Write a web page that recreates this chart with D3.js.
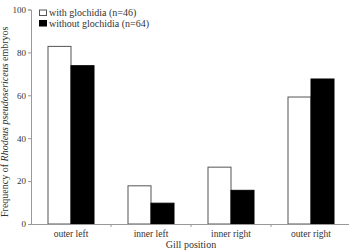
<!DOCTYPE html>
<html>
<head>
<meta charset="utf-8">
<script src="https://cdn.jsdelivr.net/npm/d3@7"></script>
<style>
	body { margin: 0; background: #fff; }
	svg text { font-family: "Liberation Serif", "DejaVu Serif", serif; fill: #333; }
</style>
</head>
<body>
<div id="chart"></div>
<script>
// data
let categories = ["outer left", "inner left", "inner right", "outer right"];
let withGlochidia = [82.8, 17.8, 26.5, 59.2];
let withoutGlochidia = [73.8, 9.7, 15.7, 67.6];
let seriesNames = ["with glochidia (n=46)", "without glochidia (n=64)"];
let yTicks = [0, 20, 40, 60, 80, 100];

let width = 349;
let height = 251;
let plotLeft = 31, plotRight = 351, plotTop = 9.5, plotBottom = 224;

let svg = d3.select('#chart').append('svg')
	.attr('width', width)
	.attr('height', height);

let xScale = d3.scaleBand().domain(categories).range([plotLeft, plotRight]);
let inner = d3.scaleBand().domain([0, 1]).range([-23, 23]);
let yScale = d3.scaleLinear().domain([0, 100]).range([plotBottom, plotTop]);

let axisColor = '#999';

// y axis
let yAxis = svg.append('g')
	.attr('transform', `translate(${plotLeft},0)`)
	.call(d3.axisLeft(yScale).tickValues(yTicks).tickSize(3).tickPadding(2));
yAxis.select('.domain').attr('stroke', axisColor);
yAxis.selectAll('.tick line').attr('stroke', axisColor);
yAxis.selectAll('.tick text').style('font-size', '9px').attr('fill', '#333');

// bars
let series = [withGlochidia, withoutGlochidia];
let groups = svg.append('g').selectAll('g')
	.data(categories).enter()
	.append('g')
	.attr('transform', d => `translate(${xScale(d) + xScale.bandwidth() / 2},0)`);

groups.selectAll('rect')
	.data((d, i) => series.map((s, k) => ({ k: k, value: s[i] })))
	.enter().append('rect')
	.attr('x', d => inner(d.k))
	.attr('width', inner.bandwidth())
	.attr('y', d => yScale(d.value))
	.attr('height', d => plotBottom - yScale(d.value))
	.attr('fill', d => d.k === 0 ? '#fff' : '#000')
	.attr('stroke', d => d.k === 0 ? '#555' : '#000')
	.attr('stroke-width', 1);

// x axis
let xAxis = svg.append('g')
	.attr('transform', `translate(0,${plotBottom})`);
xAxis.append('line')
	.attr('x1', plotLeft).attr('x2', width)
	.attr('y1', 0.5).attr('y2', 0.5)
	.attr('stroke', axisColor);
xAxis.selectAll('.sep')
	.data(categories.slice(1)).enter()
	.append('line')
	.attr('x1', d => xScale(d)).attr('x2', d => xScale(d))
	.attr('y1', 0).attr('y2', 3)
	.attr('stroke', axisColor);
xAxis.selectAll('.lab')
	.data(categories).enter()
	.append('text')
	.attr('x', d => xScale(d) + xScale.bandwidth() / 2)
	.attr('y', 13)
	.attr('text-anchor', 'middle')
	.style('font-size', '9.5px')
	.text(d => d);

svg.append('text')
	.attr('x', (plotLeft + plotRight) / 2)
	.attr('y', 248)
	.attr('text-anchor', 'middle')
	.style('font-size', '10px')
	.text('Gill position');

// y label
let yl = svg.append('text')
	.attr('transform', `translate(8,${(plotTop + plotBottom) / 2 + 5}) rotate(-90)`)
	.attr('text-anchor', 'middle')
	.style('font-size', '10px');
yl.append('tspan').text('Frequency of ');
yl.append('tspan').style('font-style', 'italic').text('Rhodeus pseudosericeus');
yl.append('tspan').text(' embryos');

// legend
let legend = svg.append('g').selectAll('g')
	.data(seriesNames).enter()
	.append('g')
	.attr('transform', (d, i) => `translate(39,${9.5 + i * 10.5})`);
legend.append('rect')
	.attr('x', 0.5).attr('y', 0.5)
	.attr('width', 7).attr('height', 5.5)
	.attr('fill', (d, i) => i === 0 ? '#fff' : '#000')
	.attr('stroke', (d, i) => i === 0 ? '#555' : '#000');
legend.append('text')
	.attr('x', 10)
	.attr('y', 6.5)
	.style('font-size', '10px')
	.text(d => d);
</script>
</body>
</html>
